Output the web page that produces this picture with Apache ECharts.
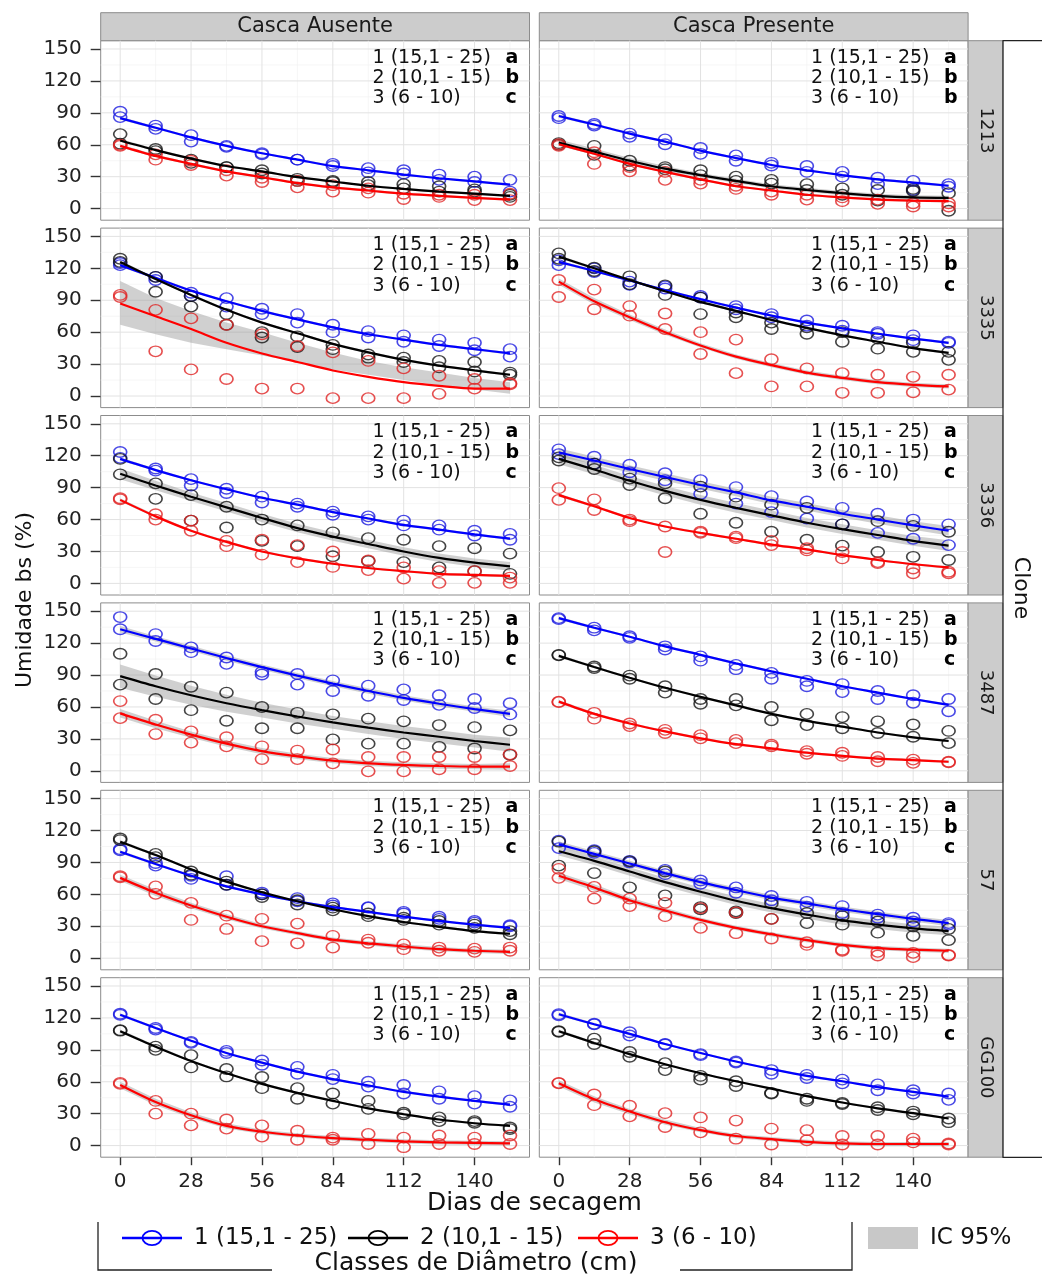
<!DOCTYPE html>
<html><head><meta charset="utf-8">
<script src="https://cdn.jsdelivr.net/npm/echarts@6/dist/echarts.min.js"></script>
<style>html,body{margin:0;padding:0;background:#fff}#c{width:1042px;height:1278px}</style>
</head><body><div id="c"></div>
<script>
// ---------- axes / labels ----------
const xDays = [0,14,28,42,56,70,84,98,112,126,140,154];
const xTicks = [0,28,56,84,112,140];
const xMinor = [14,42,70,98,126,154];
const yTicks = [0,30,60,90,120,150];
const yMinor = [15,45,75,105,135];
const clones = ['1213','3335','3336','3487','57','GG100'];
const facets = ['Casca Ausente','Casca Presente'];
const classes = ['1 (15,1 - 25)','2 (10,1 - 15)','3 (6 - 10)'];
const lettersA = [['a','b','c'],['a','b','c'],['a','b','c'],['a','b','c'],['a','b','c'],['a','b','c']];
const lettersP = [['a','b','b'],['a','b','c'],['a','b','c'],['a','b','c'],['a','b','c'],['a','b','c']];

// ---------- CI half-widths ----------
const ciThin  = [1.5,1.2,1,1,1,1,1,1,1,1,1,1.2];
const ciSmall = [3,3,2.5,2.5,2,2,2,2,2,2,2,2];

// ---------- Casca Ausente ----------
// points: two observations per day (flattened pairs)
const A1213_b = [91,86, 78,75, 69,63, 59,58, 52,51, 46,46, 42,40, 38,34, 36,33, 32,27, 30,25, 27,16];
const A1213_b_fit = [85,76,67,59,52,46,40,36,32,28.5,25.5,22.5];
const A1213_k = [70,61, 56,54, 46,43, 39,39, 36,33, 28,26, 26,25, 25,22, 23,19, 21,16, 18,16, 13,11];
const A1213_k_fit = [64,55,47,40,35,29.5,25.5,21.5,18.5,16,14,12];
const A1213_r = [60,59, 51,46, 45,41, 36,31, 29,25, 26,20, 22,16, 19,15, 14,9, 13,11, 13,8, 14,8];
const A1213_r_fit = [59,49.5,42,35,29.5,24,20,17,14,12,10,8.5];

const A3335_b = [125,123, 112,109, 97,94, 92,84, 82,77, 77,69, 67,60, 61,55, 57,51, 53,47, 50,43, 44,37];
const A3335_b_fit = [123,111,99,89,80,72,64.5,58,53,48,44,40];
const A3335_k = [129,126, 112,98, 94,84, 77,67, 60,55, 56,46, 48,44, 39,36, 36,32, 33,27, 32,23, 22,20];
const A3335_k_fit = [126,110,95,81,69,59,49,41,34,28.5,24,20];
const A3335_r = [95,93, 81,42, 73,25, 67,16, 58,7, 47,7, 41,-2, 33,-2, 26,-2, 19,2, 16,7, 12,11];
const A3335_r_fit = [87,75,63,50,40,32,24,18,13,9.5,7,7];
const A3335_r_lo = [67,58,50,44,38,32,25,20,15,10,6,2];
const A3335_r_hi = [108,92,80,69,60,50,41,33,27,22,17,13];

const A3336_b = [123.5,118, 108,106, 98,92, 89,85, 81.5,76, 75,72, 67.5,64.5, 63,60, 59,54.5, 54.5,50.5, 49.5,45, 46.5,41];
const A3336_b_fit = [117,106.5,97,88.5,80.5,74,67,61,55,50.5,46,42];
const A3336_k = [117,102.5, 94,79.5, 83,59, 72,52.5, 60,40, 54.5,35, 48,25.5, 42.5,21, 41,20, 35,15, 33,11.5, 28,9];
const A3336_k_fit = [103,92,81.5,71.5,61.5,52,44,37,30,24,19.5,16];
const A3336_k_ci = [5,4.5,4,4,4,4,4,4,4,4,4,4];
const A3336_r = [80,79, 65,60, 59,49.5, 40,35, 41,27, 36,20, 30,15.5, 21.5,12.5, 15,4.5, 11.5,0.5, 11.5,0.5, 5.5,0.5];
const A3336_r_fit = [78.5,63,49.5,39,30,23.5,18.5,14.5,11.5,9,8,7];

const A3487_b = [144.5,133, 128.5,122, 116,111.5, 106.5,100.5, 93,90.5, 91,81, 85,75, 80,70.5, 76.5,66.5, 71,62, 67.5,59, 63.5,53];
const A3487_b_fit = [133,124,115,106,97.5,89.5,82,75,68.5,63,58,53.5];
const A3487_b_ci = [3,2.5,2.5,2.5,2.5,2.5,2.5,2.5,2.5,2.5,2.5,3];
const A3487_k = [110,81, 91,67.5, 79,57, 73.5,47, 60,40, 54.5,40, 53,29.5, 49,25.5, 46.5,25.5, 43,22.5, 41,21, 38,15];
const A3487_k_fit = [89,79.5,71,63.5,57,51,45.5,40.5,36,32,28,24.5];
const A3487_k_ci = [11,10,9,8,7,6.5,6,6,6,6,6,6.5];
const A3487_r = [65.5,49.5, 48,34.5, 37,26.5, 31.5,23, 23,11, 19,11, 20,7, 13,-0.5, 13,-0.5, 13,1.5, 13,1.5, 15.5,4.5];
const A3487_r_fit = [54,43.5,34,25.5,18.5,13.5,9.5,7,5.5,4.5,4,4];
const A3487_r_ci = [4,3.5,3,3,3,2.5,2.5,2.5,2.5,2.5,2.5,3];

const A57_b = [102.5,101.5, 89.5,87, 77.5,74.5, 77,69, 61.5,60, 56.5,53.5, 51.5,49.5, 48,47.5, 43.5,42, 39,37, 35,33.5, 31,30];
const A57_b_fit = [100,88.5,77.5,67.5,60,53.5,48,43.5,39,35,31.5,28.5];
const A57_k = [112.5,111, 98,95, 81.5,78.5, 72,69, 60,57.5, 54.5,50.5, 47.5,45, 42,39.5, 38,36, 35,31.5, 31.5,28.5, 25.5,22.5];
const A57_k_fit = [109.5,97,83.5,72,62,53.5,46,39.5,34,29.5,25.5,23];
const A57_r = [77,76, 67.5,60.5, 52,36, 40,27.5, 37,16, 32.5,14, 21,10, 17.5,14.5, 13,8.5, 10,7, 9,6, 10,7];
const A57_r_fit = [75.5,61.5,49.5,39,30,23.5,17.5,14,11,8.5,7,6];

const AGG100_b = [124,123, 110.5,109, 97.5,96.5, 89,87, 80,76, 74,67.5, 66.5,62.5, 60,55.5, 57,49, 51,44, 46.5,39.5, 42.5,36.5];
const AGG100_b_fit = [123,110.5,98.5,87,78,69.5,62.5,56.5,50.5,46,42,38.5];
const AGG100_k = [108.5,108, 93,90, 85,73.5, 72,65, 64.5,54, 54,44, 49,39.5, 42,34.5, 31,29.5, 26.5,23, 23,21.5, 17,15.5];
const AGG100_k_fit = [107.5,93,79.5,68,58,49.5,42,35,29.5,24.5,21,18.5];
const AGG100_r = [59,58, 42,30, 30,19, 24.5,16, 19,8.5, 14,5.5, 7.5,5.5, 11,1.5, 7.5,-1.5, 9.5,1.5, 7.5,1.5, 9.5,1.5];
const AGG100_r_fit = [57,41,28.5,18.5,13,9.5,7,5.5,4,3,2.5,2];

// ---------- Casca Presente ----------
const P1213_b = [87,85, 79.5,78, 70.5,67.5, 65,60.5, 57,51.5, 50,45, 43,40.5, 40,34.5, 34.5,30, 29,23, 26,17.5, 23,20.5];
const P1213_b_fit = [87,79,70.5,63,54.5,47.5,41,36,31.5,27.5,24.5,21.5];
const P1213_k = [61.5,60, 59,50.5, 45,40.5, 39,37, 36,31.5, 30,26, 27,23.5, 23,17.5, 19,13, 17.5,7.5, 18.5,16.5, 14.5,-2];
const P1213_k_fit = [62,53.5,45,37.5,31.5,26,21,17.5,14.5,12,10.5,10];
const P1213_r = [60.5,59, 53,42, 39,35, 34.5,27, 27,23.5, 21.5,18.5, 16,13, 13,8.5, 10.5,7, 8.5,4.5, 5,2, 5,2];
const P1213_r_fit = [60.5,51.5,42,34.5,27.5,21,17,13,10.5,8.5,7.5,7];

const P3335_b = [127.5,123, 120,116.5, 107.5,104.5, 103,101, 94,92.5, 84.5,81.5, 77,74, 71,66, 66,61.5, 60,58.5, 57,52.5, 51,50];
const P3335_b_fit = [126,117.5,108.5,99.5,91,83,75.5,69,63.5,58.5,54,50];
const P3335_k = [134,129, 120.5,117.5, 112.5,105, 104,95, 92.5,77, 78.5,74, 69,63, 64.5,58.5, 60,51, 54,44.5, 50,41.5, 41.5,34];
const P3335_k_fit = [131,120,109,98.5,88.5,80,71.5,64,57,51,45,40.5];
const P3335_r = [109,93, 100,81.5, 84.5,75.5, 77.5,63, 60,39.5, 53,21.5, 34.5,9, 26,9, 21.5,3, 20,3, 18,3.5, 20,6];
const P3335_r_fit = [107.5,89,74,60,47.5,37,29,22,17,13,10.5,9];

const P3336_b = [126,121.5, 119,112.5, 111.5,104.5, 103.5,97, 97,84, 90.5,75, 82,67, 77,61, 71,55.5, 65.5,47.5, 60,42, 55.5,36];
const P3336_b_fit = [123,115.5,107.5,100,92.5,85.5,78,72,65.5,60,54.5,49.5];
const P3336_b_ci = [4,3.5,3.5,3.5,3.5,3.5,3.5,3.5,3.5,4,4,4.5];
const P3336_k = [118.5,115.5, 112.5,107.5, 98.5,92.5, 94,80, 91,65.5, 81.5,57, 74,48.5, 71,41, 55.5,35.5, 58.5,29.5, 54,25, 48.5,22];
const P3336_k_fit = [117,107,96.5,87,78.5,71,64,57,51,45.5,40,35.5];
const P3336_k_ci = [5,4.5,4.5,4.5,4.5,4.5,4.5,4.5,4.5,4.5,4.5,5];
const P3336_r = [89.5,78.5, 79,69, 60,58.5, 53.5,29.5, 48.5,47.5, 44,42.5, 40,36, 33,31, 29.5,23.5, 20,19, 14,9.5, 11,9.5];
const P3336_r_fit = [83,72.5,61.5,53.5,47.5,42,36.5,32,26.5,22,18,15];

const P3487_b = [143.5,142.5, 134.5,132, 126.5,125, 117,114, 107.5,103.5, 99.5,95.5, 92,86.5, 84.5,79.5, 81.5,74, 75,67.5, 71,64, 67.5,56];
const P3487_b_fit = [143.5,134.5,126,117,109,101,93.5,86.5,79.5,73.5,67.5,62];
const P3487_k = [109,108.5, 98,96.5, 89.5,86.5, 79.5,73.5, 67.5,63, 67.5,61.5, 60,47.5, 53.5,43, 50.5,40, 46.5,35.5, 43.5,32, 37.5,26];
const P3487_k_fit = [108,97.5,87.5,78,69.5,61.5,53.5,47,41.5,36,31.5,28];
const P3487_r = [65,64.5, 54.5,49, 44.5,42, 38.5,35.5, 33.5,30.5, 29,26, 24.5,23, 18.5,16, 17,14, 13,9, 10.5,7.5, 8.5,8];
const P3487_r_fit = [65,53.5,44.5,37,30.5,25,21,17,14,11.5,10,8.5];

const P57_b = [110.5,103.5, 101.5,99, 91.5,90, 83,79, 73,70, 66.5,61.5, 58.5,54.5, 53,48.5, 49,42.5, 41,38, 38,34.5, 33,31.5];
const P57_b_fit = [107,98,89,80,71.5,64,57,51.5,46,41.5,37,33];
const P57_b_ci = [3,2.5,2.5,2.5,2.5,2.5,2.5,2.5,2.5,2.5,2.5,3];
const P57_k = [109.5,87, 100.5,80, 91,66.5, 81.5,59, 48,46, 44,42.5, 51.5,37, 42.5,33, 39.5,31.5, 34.5,24, 30,21, 27.5,17];
const P57_k_fit = [100.5,91.5,81.5,71.5,62.5,54,47,41,35.5,31.5,28,25.5];
const P57_k_ci = [4,4,4,4,4,4,4,4,4,4,4,4];
const P57_r = [84,75.5, 67,56, 56,49, 52,39.5, 47,28.5, 43,23.5, 37,18.5, 15,12.5, 8,7, 6,2.5, 5,1, 3,2.5];
const P57_r_fit = [77.5,66.5,54.5,45,36,28.5,22.5,17,12.5,9.5,8,7];

const PGG100_b = [123.5,122.5, 114.5,114, 106.5,103.5, 95.5,95, 86,85, 79,78, 71,67.5, 66.5,63.5, 62,58.5, 57.5,52, 52,49, 49,43];
const PGG100_b_fit = [123.5,114,105,95.5,87,79,72,65.5,60.5,55,50.5,46];
const PGG100_k = [107.5,107, 100.5,95.5, 88,83.5, 77.5,71, 65.5,62, 60.5,56, 49.5,49, 44,42, 40,39, 36,33.5, 32,29.5, 25.5,22];
const PGG100_k_fit = [107.5,96.5,86,76.5,68,60.5,53.5,46.5,40.5,35,30.5,25.5];
const PGG100_r = [59,58.5, 48,38, 37.5,27.5, 30.5,17.5, 26.5,12.5, 23.5,6.5, 16,1, 14.5,5, 9,1, 9,1, 6.5,3, 2,1];
const PGG100_r_fit = [58.5,43.5,32,22,14.5,9,6,3.5,2,1.5,1.5,1.5];

// ---------- assemble per panel: [points, fit, ci] for classes 1,2,3 ----------
const panelsA = [
  [[A1213_b,A1213_b_fit,ciThin],[A1213_k,A1213_k_fit,ciThin],[A1213_r,A1213_r_fit,ciThin]],
  [[A3335_b,A3335_b_fit,ciThin],[A3335_k,A3335_k_fit,ciThin],[A3335_r,A3335_r_fit,{lo:A3335_r_lo,hi:A3335_r_hi}]],
  [[A3336_b,A3336_b_fit,ciThin],[A3336_k,A3336_k_fit,A3336_k_ci],[A3336_r,A3336_r_fit,ciThin]],
  [[A3487_b,A3487_b_fit,A3487_b_ci],[A3487_k,A3487_k_fit,A3487_k_ci],[A3487_r,A3487_r_fit,A3487_r_ci]],
  [[A57_b,A57_b_fit,ciThin],[A57_k,A57_k_fit,ciThin],[A57_r,A57_r_fit,ciSmall]],
  [[AGG100_b,AGG100_b_fit,ciThin],[AGG100_k,AGG100_k_fit,ciThin],[AGG100_r,AGG100_r_fit,ciSmall]]
];
const panelsP = [
  [[P1213_b,P1213_b_fit,ciThin],[P1213_k,P1213_k_fit,ciSmall],[P1213_r,P1213_r_fit,ciThin]],
  [[P3335_b,P3335_b_fit,ciThin],[P3335_k,P3335_k_fit,ciThin],[P3335_r,P3335_r_fit,ciSmall]],
  [[P3336_b,P3336_b_fit,P3336_b_ci],[P3336_k,P3336_k_fit,P3336_k_ci],[P3336_r,P3336_r_fit,ciThin]],
  [[P3487_b,P3487_b_fit,ciThin],[P3487_k,P3487_k_fit,ciThin],[P3487_r,P3487_r_fit,ciThin]],
  [[P57_b,P57_b_fit,P57_b_ci],[P57_k,P57_k_fit,P57_k_ci],[P57_r,P57_r_fit,ciSmall]],
  [[PGG100_b,PGG100_b_fit,ciThin],[PGG100_k,PGG100_k_fit,ciThin],[PGG100_r,PGG100_r_fit,ciSmall]]
];

// ---------- layout / style ----------
const FONT = '"DejaVu Sans", sans-serif';
const colX = [100.7, 539.3], panelW = 428.8;
const rowY0 = 40.7, rowPitch = 187.4, panelH = 179.5;
const xMin = -7.7, xMax = 161.7, yMin = -10.9, yMax = 157.8;
const lineCol = ['#0000ff', '#000000', '#ff0000'];
const ptCol = ['#1c1ce0', '#151515', '#e02424'];
const ELL = 'path://M0,50 A50,50 0 1,1 100,50 A50,50 0 1,1 0,50 Z';

const grids = [], xAxes = [], yAxes = [], series = [], graphics = [];

for (let r = 0; r < 6; r++) {
  for (let c = 0; c < 2; c++) {
    const gi = r * 2 + c;
    const top = rowY0 + r * rowPitch;
    const left = colX[c];
    const bottom = r === 5, leftCol = c === 0;
    grids.push({left: left, top: top, width: panelW, height: panelH, show: true,
      backgroundColor: '#ffffff', borderColor: '#8c8c8c', borderWidth: 1});
    xAxes.push({gridIndex: gi, type: 'value', min: xMin, max: xMax,
      axisLine: {show: false, onZero: false}, splitLine: {show: false},
      axisTick: {show: bottom, customValues: xTicks, length: 8, lineStyle: {color: '#333', width: 1.4}},
      axisLabel: {show: bottom, customValues: xTicks, margin: 15, fontFamily: FONT, fontSize: 20, color: '#222'}});
    yAxes.push({gridIndex: gi, type: 'value', min: yMin, max: yMax,
      axisLine: {show: false, onZero: false}, splitLine: {show: false},
      axisTick: {show: leftCol, customValues: yTicks, length: 10, lineStyle: {color: '#333', width: 1.4}},
      axisLabel: {show: leftCol, customValues: yTicks, margin: 19, fontFamily: FONT, fontSize: 20, color: '#222'}});

    // grid lines
    series.push({type: 'custom', xAxisIndex: gi, yAxisIndex: gi, z: 1, silent: true, data: [[0, 0]],
      renderItem: function (params, api) {
        const ch = [];
        const vl = (v, col, w) => { const a = api.coord([v, yMin]), b = api.coord([v, yMax]);
          ch.push({type: 'line', shape: {x1: a[0], y1: a[1], x2: b[0], y2: b[1]}, style: {stroke: col, lineWidth: w}}); };
        const hl = (v, col, w) => { const a = api.coord([xMin, v]), b = api.coord([xMax, v]);
          ch.push({type: 'line', shape: {x1: a[0], y1: a[1], x2: b[0], y2: b[1]}, style: {stroke: col, lineWidth: w}}); };
        xMinor.forEach(v => vl(v, '#f2f2f2', 0.7));
        yMinor.forEach(v => hl(v, '#f2f2f2', 0.7));
        xTicks.forEach(v => vl(v, '#e2e2e2', 1));
        yTicks.forEach(v => hl(v, '#e2e2e2', 1));
        return {type: 'group', children: ch};
      }});

    const pdata = (c === 0 ? panelsA : panelsP)[r];
    pdata.forEach((sd, k) => {
      const pts = sd[0], fit = sd[1], ci = sd[2];
      let lo, hi;
      if (Array.isArray(ci)) { lo = fit.map((f, i) => f - ci[i]); hi = fit.map((f, i) => f + ci[i]); }
      else { lo = ci.lo; hi = ci.hi; }
      series.push({type: 'custom', xAxisIndex: gi, yAxisIndex: gi, z: 2, silent: true,
        data: xDays.map((x, i) => [x, lo[i], hi[i]]),
        renderItem: function (params, api) {
          if (params.dataIndex !== 0) return null;
          const poly = [];
          for (let i = 0; i < xDays.length; i++) poly.push(api.coord([xDays[i], hi[i]]));
          for (let i = xDays.length - 1; i >= 0; i--) poly.push(api.coord([xDays[i], lo[i]]));
          return {type: 'polygon', shape: {points: poly}, style: {fill: 'rgba(150,150,150,0.45)'}};
        }});
      const sdata = [];
      for (let i = 0; i < xDays.length; i++) { sdata.push([xDays[i], pts[2 * i]]); sdata.push([xDays[i], pts[2 * i + 1]]); }
      series.push({type: 'scatter', name: classes[k], xAxisIndex: gi, yAxisIndex: gi, z: 3,
        symbol: ELL, symbolSize: [13, 10.5], data: sdata,
        itemStyle: {color: 'rgba(0,0,0,0)', borderColor: ptCol[k], borderWidth: 1.5}});
      series.push({type: 'line', name: classes[k], xAxisIndex: gi, yAxisIndex: gi, z: 4,
        data: xDays.map((x, i) => [x, fit[i]]), smooth: 0.3, symbol: 'none',
        lineStyle: {color: lineCol[k], width: 2.2}});
    });

    // panel annotations
    const lets = (c === 0 ? lettersA : lettersP)[r];
    for (let k = 0; k < 3; k++) {
      const yy = top + 17 + k * 20.3;
      graphics.push({type: 'text', x: left + panelW - 157, y: yy, z: 10,
        style: {text: classes[k], font: '19px ' + FONT, fill: '#111', align: 'left', verticalAlign: 'middle'}});
      graphics.push({type: 'text', x: left + panelW - 24, y: yy, z: 10,
        style: {text: lets[k], font: 'bold 19px ' + FONT, fill: '#000', align: 'left', verticalAlign: 'middle'}});
    }
  }
}

// strips
for (let c = 0; c < 2; c++) {
  graphics.push({type: 'rect', shape: {x: colX[c], y: 12.7, width: panelW, height: 28},
    style: {fill: '#cccccc', stroke: '#8c8c8c', lineWidth: 1}});
  graphics.push({type: 'text', x: colX[c] + panelW / 2, y: 27,
    style: {text: facets[c], font: '21px ' + FONT, fill: '#1a1a1a', align: 'center', verticalAlign: 'middle'}});
}
for (let r = 0; r < 6; r++) {
  const top = rowY0 + r * rowPitch;
  graphics.push({type: 'rect', shape: {x: colX[1] + panelW, y: top, width: 34.7, height: panelH},
    style: {fill: '#cccccc', stroke: '#8c8c8c', lineWidth: 1}});
  graphics.push({type: 'text', x: colX[1] + panelW + 17.5, y: top + panelH / 2, rotation: -Math.PI / 2,
    style: {text: clones[r], font: '18px ' + FONT, fill: '#1a1a1a', align: 'center', verticalAlign: 'middle'}});
}
// axis titles
graphics.push({type: 'text', x: 25, y: 600, rotation: Math.PI / 2,
  style: {text: 'Umidade bs (%)', font: '22px ' + FONT, fill: '#111', align: 'center', verticalAlign: 'middle'}});
graphics.push({type: 'text', x: 534.5, y: 1203,
  style: {text: 'Dias de secagem', font: '25px ' + FONT, fill: '#111', align: 'center', verticalAlign: 'middle'}});
graphics.push({type: 'text', x: 1021, y: 588, rotation: -Math.PI / 2,
  style: {text: 'Clone', font: '22px ' + FONT, fill: '#111', align: 'center', verticalAlign: 'middle'}});
graphics.push({type: 'polyline', shape: {points: [[1042, 40.7], [1003, 40.7], [1003, 1157.3], [1042, 1157.3]]},
  style: {stroke: '#222', lineWidth: 1.2, fill: null}});
// legend
const legY = 1238;
const legX = [122, 348, 578];
for (let k = 0; k < 3; k++) {
  graphics.push({type: 'line', shape: {x1: legX[k], y1: legY, x2: legX[k] + 60, y2: legY},
    style: {stroke: lineCol[k], lineWidth: 2.4}});
  graphics.push({type: 'ellipse', shape: {cx: legX[k] + 30, cy: legY, rx: 9.5, ry: 7.2},
    style: {stroke: lineCol[k], lineWidth: 1.8, fill: 'rgba(0,0,0,0)'}});
  graphics.push({type: 'text', x: legX[k] + 72, y: legY,
    style: {text: classes[k], font: '23px ' + FONT, fill: '#111', align: 'left', verticalAlign: 'middle'}});
}
graphics.push({type: 'rect', shape: {x: 868, y: legY - 11, width: 50, height: 22}, style: {fill: '#c8c8c8'}});
graphics.push({type: 'text', x: 930, y: legY,
  style: {text: 'IC 95%', font: '23px ' + FONT, fill: '#111', align: 'left', verticalAlign: 'middle'}});
graphics.push({type: 'polyline', shape: {points: [[98, 1222], [98, 1270], [272, 1270]]},
  style: {stroke: '#222', lineWidth: 1.3, fill: null}});
graphics.push({type: 'polyline', shape: {points: [[680, 1270], [852, 1270], [852, 1222]]},
  style: {stroke: '#222', lineWidth: 1.3, fill: null}});
graphics.push({type: 'text', x: 476, y: 1263,
  style: {text: 'Classes de Diâmetro (cm)', font: '25px ' + FONT, fill: '#111', align: 'center', verticalAlign: 'middle'}});

const chart = echarts.init(document.getElementById('c'), null, {renderer: 'canvas'});
chart.setOption({
  animation: false,
  backgroundColor: '#ffffff',
  textStyle: {fontFamily: FONT},
  grid: grids, xAxis: xAxes, yAxis: yAxes, series: series,
  graphic: {elements: graphics}
});
</script></body></html>
